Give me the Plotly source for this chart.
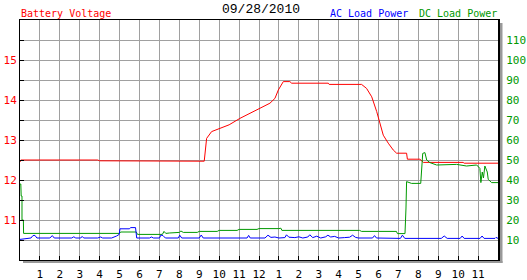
import plotly.graph_objects as go

# ---------------- data ----------------
volt_hours = [0.0, 0.04, 3.9, 4.0, 9.25, 9.3, 9.37, 9.62, 10.04, 10.5, 11.04, 11.5, 12.05,
              12.55, 12.8, 12.97, 13.22, 13.55, 13.64, 15.48, 15.52, 17.15, 17.4, 17.66,
              17.91, 18.04, 18.24, 18.49, 18.74, 18.91, 19.41, 19.45, 20.08, 20.25, 22.25,
              22.3, 24.0]
volt_values = [12.45, 12.5, 12.5, 12.48, 12.47, 12.75, 13.04, 13.21, 13.29, 13.38, 13.54,
               13.65, 13.79, 13.92, 14.04, 14.25, 14.46, 14.46, 14.42, 14.42, 14.39, 14.39,
               14.29, 14.08, 13.71, 13.46, 13.12, 12.92, 12.75, 12.67, 12.67, 12.52, 12.52,
               12.44, 12.44, 12.42, 12.42]

ac_hours = [0.0, 0.3, 0.55, 0.65, 0.75, 0.85, 1.5, 1.62, 1.72, 2.6, 2.7, 2.8, 3.05, 3.12,
            3.2, 3.9, 4.05, 4.15, 4.6, 4.85, 4.98, 5.02, 5.5, 5.55, 5.8, 5.86, 6.5, 6.6,
            6.7, 7.0, 7.08, 7.18, 7.3, 7.95, 8.02, 8.12, 9.0, 9.1, 9.2, 11.4, 11.48, 11.56,
            12.3, 12.45, 12.6, 12.8, 13.0, 13.3, 13.38, 13.5, 13.8, 14.0, 14.2, 14.45,
            14.55, 14.7, 14.9, 15.1, 15.35, 15.46, 15.6, 15.8, 16.0, 16.3, 16.55, 16.7,
            16.85, 17.0, 17.7, 17.8, 17.9, 19.1, 19.2, 19.32, 21.15, 21.3, 21.45, 22.1,
            22.2, 22.3, 23.1, 23.2, 23.3, 23.85, 23.9, 24.0]
ac_values = [10.3, 10.8, 11.0, 12.2, 12.3, 11.0, 11.0, 12.2, 11.0, 11.0, 11.6, 11.0, 11.0,
             11.8, 11.0, 11.0, 11.5, 11.0, 11.0, 12.0, 12.8, 15.6, 15.6, 16.2, 16.2, 11.0,
             11.0, 11.5, 11.0, 11.0, 12.5, 12.2, 11.0, 11.0, 12.4, 11.0, 11.0, 12.5, 11.0,
             11.0, 12.3, 11.0, 11.0, 12.4, 11.3, 11.5, 11.0, 11.2, 12.6, 11.4, 11.2, 11.6,
             11.0, 11.5, 12.6, 11.2, 11.9, 11.0, 11.6, 12.4, 11.5, 11.8, 11.0, 11.2, 11.4,
             12.4, 11.3, 11.0, 11.0, 12.2, 11.0, 10.8, 12.4, 10.8, 10.8, 12.0, 10.8, 10.8,
             12.0, 10.8, 10.8, 12.0, 10.8, 10.8, 11.3, 10.8]

dc_hours = [0.0, 0.04, 0.06, 0.1, 0.1, 0.17, 0.18, 5.0, 5.05, 5.84, 5.9, 7.15, 7.23, 7.32,
            7.5, 7.9, 8.0, 8.08, 8.2, 8.9, 9.0, 9.9, 10.0, 10.9, 11.0, 11.9, 12.0, 13.0,
            13.1, 13.15, 17.05, 17.15, 17.6, 17.9, 18.0, 18.9, 18.95, 19.33, 19.35, 19.38,
            19.41, 19.66, 20.12, 20.17, 20.22, 20.33, 20.42, 20.58, 20.92, 21.92, 22.42,
            22.93, 23.09, 23.14, 23.21, 23.27, 23.34, 23.46, 23.51, 23.68, 24.0]
dc_values = [38, 38, 32, 32, 20, 20, 13.3, 13.3, 14.0, 14.0, 12.8, 12.8, 14.3, 13.3, 13.5,
             13.5, 13.8, 14.5, 13.8, 13.8, 14.3, 14.3, 14.8, 14.8, 15.3, 15.3, 15.7, 15.7,
             15.9, 14.8, 14.8, 14.3, 14.4, 14.2, 14.3, 14.3, 13.2, 13.2, 26, 26, 39.2, 38.3,
             38.3, 45, 53.3, 53.7, 50, 48.7, 47.5, 47.8, 47, 47.5, 45.8, 38.7, 44, 41, 47,
             44, 40.3, 38.7, 38.7]

hour_ticks = list(range(1, 24))
hour_labels = ["1", "2", "3", "4", "5", "6", "7", "8", "9", "10", "11", "12",
               "1", "2", "3", "4", "5", "6", "7", "8", "9", "10", "11"]
volt_ticks = [10.5, 11, 11.5, 12, 12.5, 13, 13.5, 14, 14.5, 15, 15.5]
volt_labels = ["", "11", "", "12", "", "13", "", "14", "", "15", ""]
power_ticks = [10, 20, 30, 40, 50, 60, 70, 80, 90, 100, 110]

title_date = "09/28/2010"

# ---------------- styles ----------------
RED = "#FF0000"
BLUE = "#0000FF"
GREEN = "#009900"
GRID = "#A0A0A0"
FONT = "DejaVu Sans Mono"

fig = go.Figure()
fig.add_trace(go.Scatter(x=dc_hours, y=dc_values, mode="lines", yaxis="y2",
                         line=dict(color=GREEN, width=1), hoverinfo="skip"))
fig.add_trace(go.Scatter(x=ac_hours, y=ac_values, mode="lines", yaxis="y2",
                         line=dict(color=BLUE, width=1), hoverinfo="skip"))
fig.add_trace(go.Scatter(x=volt_hours, y=volt_values, mode="lines", yaxis="y",
                         line=dict(color=RED, width=1), hoverinfo="skip"))

L, R, T, B = 20, 498, 20, 260
W, H = R - L, B - T


def px(xp):
    return (xp - L) / W


def py(yp):
    return (B - yp) / H


fig.update_layout(
    width=527, height=280,
    margin=dict(l=L, r=527 - R, t=T, b=280 - B, pad=0),
    paper_bgcolor="white", plot_bgcolor="white",
    showlegend=False,
    font=dict(family=FONT, size=11, color="black"),
    xaxis=dict(range=[0, 24], tickvals=hour_ticks, ticktext=hour_labels,
               showgrid=True, gridcolor=GRID, gridwidth=1, zeroline=False,
               ticks="inside", ticklen=4, tickcolor="black", tickwidth=1,
               showline=True, linecolor="black", linewidth=1, mirror=True,
               automargin=False, ticklabelstandoff=4,
               tickfont=dict(family=FONT, size=11, color="black"), fixedrange=True),
    yaxis=dict(range=[10, 16], tickvals=volt_ticks, ticktext=volt_labels,
               showgrid=True, gridcolor=GRID, gridwidth=1, zeroline=False,
               ticks="inside", ticklen=4, tickcolor="black", tickwidth=1,
               showline=True, linecolor="black", linewidth=1, automargin=False,
               tickfont=dict(family=FONT, size=11, color=RED), fixedrange=True),
    yaxis2=dict(range=[0, 120], tickvals=power_ticks, overlaying="y", side="right",
                showgrid=False, zeroline=False, ticks="", automargin=False,
                showline=True, linecolor="black", linewidth=2, ticklabelstandoff=4,
                tickfont=dict(family=FONT, size=11, color=GREEN), fixedrange=True),
    shapes=[
        dict(type="rect", xref="paper", yref="paper", x0=px(500), x1=px(502.5),
             y0=py(263), y1=py(23), fillcolor="#999999", line=dict(width=0)),
        dict(type="rect", xref="paper", yref="paper", x0=px(23), x1=px(502.5),
             y0=py(263), y1=py(261), fillcolor="#999999", line=dict(width=0)),
    ],
    annotations=[
        dict(text="Battery Voltage", xref="paper", yref="paper", x=px(19), y=py(13),
             xanchor="left", yanchor="middle", showarrow=False,
             font=dict(family=FONT, size=10, color=RED)),
        dict(text=title_date, xref="paper", yref="paper", x=px(261), y=py(10),
             xanchor="center", yanchor="middle", showarrow=False,
             font=dict(family="Liberation Mono", size=13, color="black")),
        dict(text="AC Load Power", xref="paper", yref="paper", x=px(328), y=py(13),
             xanchor="left", yanchor="middle", showarrow=False,
             font=dict(family=FONT, size=10, color=BLUE)),
        dict(text="DC Load Power", xref="paper", yref="paper", x=px(417), y=py(13),
             xanchor="left", yanchor="middle", showarrow=False,
             font=dict(family=FONT, size=10, color=GREEN)),
    ],
)

fig.write_html("out.html", config={"displayModeBar": False})
